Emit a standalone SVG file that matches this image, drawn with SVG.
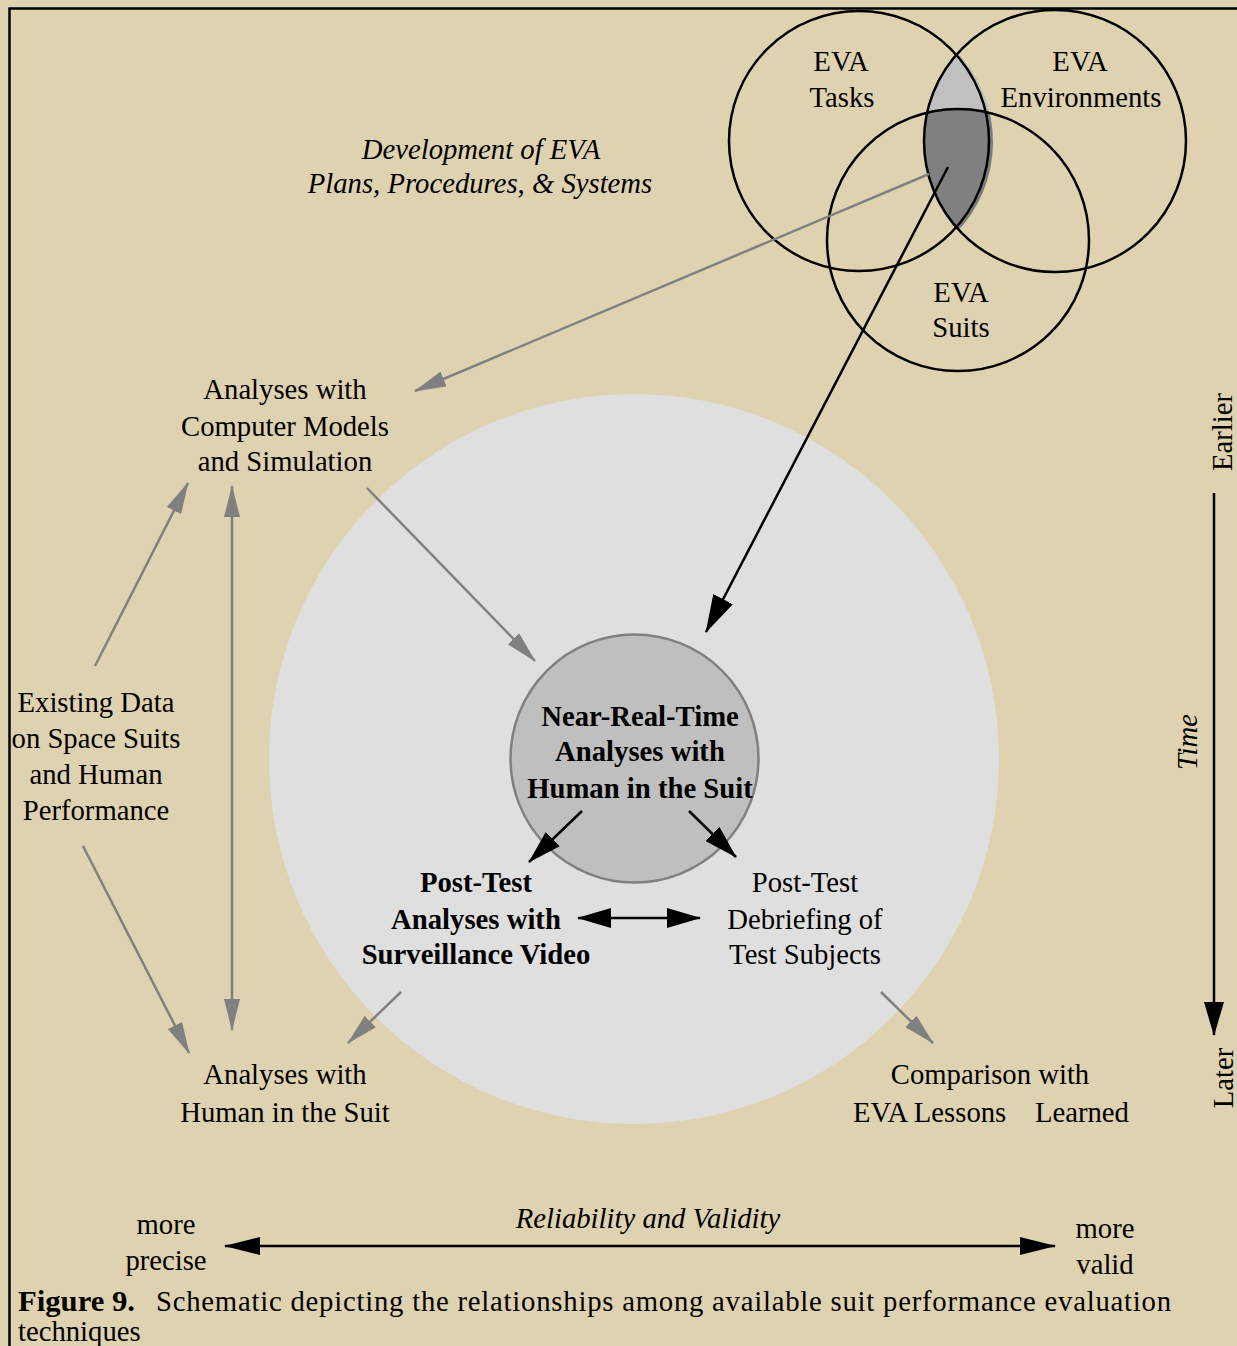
<svg xmlns="http://www.w3.org/2000/svg" width="1237" height="1346" viewBox="0 0 1237 1346">
<style>
text{font-family:"Liberation Serif","Times New Roman",serif;font-size:28.7px;fill:#000;text-anchor:middle}
.it{font-style:italic}
.b{font-weight:bold}
.g{stroke:#808080;stroke-width:2.5;fill:none}
.k{stroke:#000;stroke-width:2.5;fill:none}
.venn{fill:none;stroke:#000;stroke-width:2.5}
</style>
<defs>
<marker id="ag" viewBox="0 0 32 16" refX="31" refY="8" markerWidth="32" markerHeight="16" markerUnits="userSpaceOnUse" orient="auto-start-reverse"><path d="M0,0 L32,8 L0,16 z" fill="#808080"/></marker>
<marker id="ak" viewBox="0 0 34 20" refX="33" refY="10" markerWidth="34" markerHeight="20" markerUnits="userSpaceOnUse" orient="auto-start-reverse"><path d="M0,0 L34,10 L0,20 z" fill="#000"/></marker>
<marker id="akb" viewBox="0 0 38 22" refX="37" refY="11" markerWidth="38" markerHeight="22" markerUnits="userSpaceOnUse" orient="auto-start-reverse"><path d="M0,0 L38,11 L0,22 z" fill="#000"/></marker>
<marker id="aks" viewBox="0 0 36 18" refX="35" refY="9" markerWidth="36" markerHeight="18" markerUnits="userSpaceOnUse" orient="auto-start-reverse"><path d="M0,0 L36,9 L0,18 z" fill="#000"/></marker>
<clipPath id="cT"><circle cx="859" cy="141" r="130"/></clipPath>
<clipPath id="cE"><circle cx="1055" cy="141" r="131"/></clipPath>
<clipPath id="cTs"><circle cx="863" cy="142" r="130"/></clipPath>
</defs>
<rect x="0" y="0" width="1237" height="1346" fill="#DFD2B1"/>
<path d="M9.5,1346 V8.5 H1237" fill="none" stroke="#000" stroke-width="2.5"/>

<g id="outer-circle"><circle cx="634" cy="759" r="365" fill="#DFDFDF"/></g>

<g id="venn">
<g clip-path="url(#cTs)"><circle cx="1055" cy="141" r="131" fill="#BDBDBD"/></g>
<g clip-path="url(#cT)"><circle cx="1055" cy="141" r="131" fill="#C0C0C0"/></g>
<g clip-path="url(#cTs)"><g clip-path="url(#cE)"><circle cx="958" cy="240" r="131" fill="#7C7C7C"/></g></g>
<g clip-path="url(#cT)"><g clip-path="url(#cE)"><circle cx="958" cy="240" r="131" fill="#808080"/></g></g>
<circle class="venn" cx="859" cy="141" r="130"/>
<circle class="venn" cx="1055" cy="141" r="131"/>
<circle class="venn" cx="958" cy="240" r="131"/>
</g>
<g id="eva-tasks"><text x="841" y="71">EVA</text><text x="842" y="107">Tasks</text></g>
<g id="eva-environments"><text x="1080" y="71">EVA</text><text x="1081" y="107">Environments</text></g>
<g id="eva-suits"><text x="961" y="302">EVA</text><text x="961" y="337">Suits</text></g>
<g id="development"><text class="it" x="481" y="159">Development of EVA</text><text class="it" x="480" y="193">Plans, Procedures, &amp; Systems</text></g>

<g id="computer-models"><text x="285" y="399">Analyses with</text><text x="285" y="436">Computer Models</text><text x="285" y="471">and Simulation</text></g>
<g id="existing-data"><text x="96" y="712">Existing Data</text><text x="96" y="748">on Space Suits</text><text x="96" y="784">and Human</text><text x="96" y="820">Performance</text></g>
<g id="human-in-suit"><text x="285" y="1084">Analyses with</text><text x="285" y="1122">Human in the Suit</text></g>
<g id="lessons"><text x="990" y="1084">Comparison with</text><text x="853" y="1122" xml:space="preserve" style="text-anchor:start;white-space:pre">EVA Lessons    Learned</text></g>

<g id="near-real-time"><circle cx="634.5" cy="758.5" r="124" fill="#BFBFBF" stroke="#808080" stroke-width="2.5"/>
<text class="b" x="640" y="726">Near-Real-Time</text><text class="b" x="640" y="761">Analyses with</text><text class="b" x="640" y="798">Human in the Suit</text></g>
<g id="post-test-video"><text class="b" x="476" y="892">Post-Test</text><text class="b" x="476" y="929">Analyses with</text><text class="b" x="476" y="964">Surveillance Video</text></g>
<g id="post-test-debriefing"><text x="805" y="892">Post-Test</text><text x="805" y="929">Debriefing of</text><text x="805" y="964">Test Subjects</text></g>

<g id="time-axis"><text transform="translate(1232,432) rotate(-90)">Earlier</text><text transform="translate(1233,1078) rotate(-90)">Later</text><text class="it" transform="translate(1197,742) rotate(-90)">Time</text></g>
<g id="reliability"><text class="it" x="648" y="1228">Reliability and Validity</text>
<text x="166" y="1234">more</text><text x="166" y="1270">precise</text>
<text x="1105" y="1238">more</text><text x="1105" y="1274">valid</text></g>

<g id="connectors">
<line class="g" x1="929" y1="174" x2="415" y2="391" marker-end="url(#ag)"/>
<line class="k" x1="948" y1="167" x2="706" y2="632" marker-end="url(#akb)"/>
<line class="g" x1="367" y1="488" x2="535" y2="661" marker-end="url(#ag)"/>
<line class="g" x1="95" y1="666" x2="188" y2="483" marker-end="url(#ag)"/>
<line class="g" x1="232" y1="486" x2="232" y2="1030" marker-start="url(#ag)" marker-end="url(#ag)"/>
<line class="g" x1="83" y1="846" x2="189" y2="1053" marker-end="url(#ag)"/>
<line class="k" x1="582" y1="811" x2="529" y2="862" marker-end="url(#ak)"/>
<line class="k" x1="689" y1="811" x2="736" y2="857" marker-end="url(#ak)"/>
<line class="k" x1="578" y1="918" x2="700" y2="918" marker-start="url(#ak)" marker-end="url(#ak)"/>
<line class="g" x1="401" y1="992" x2="348" y2="1043" marker-end="url(#ag)"/>
<line class="g" x1="881" y1="992" x2="933" y2="1043" marker-end="url(#ag)"/>
<line class="k" x1="1214" y1="493" x2="1214" y2="1035" marker-end="url(#ak)"/>
<line class="k" stroke-width="3" x1="225" y1="1246" x2="1055" y2="1246" marker-start="url(#aks)" marker-end="url(#aks)"/>
</g>

<g id="caption"><text x="18" y="1311" style="text-anchor:start"><tspan class="b" textLength="117" lengthAdjust="spacingAndGlyphs">Figure 9.</tspan> <tspan x="156" textLength="1015" lengthAdjust="spacing">Schematic depicting the relationships among available suit performance evaluation</tspan></text>
<text x="18" y="1341" style="text-anchor:start">techniques</text></g>
</svg>
